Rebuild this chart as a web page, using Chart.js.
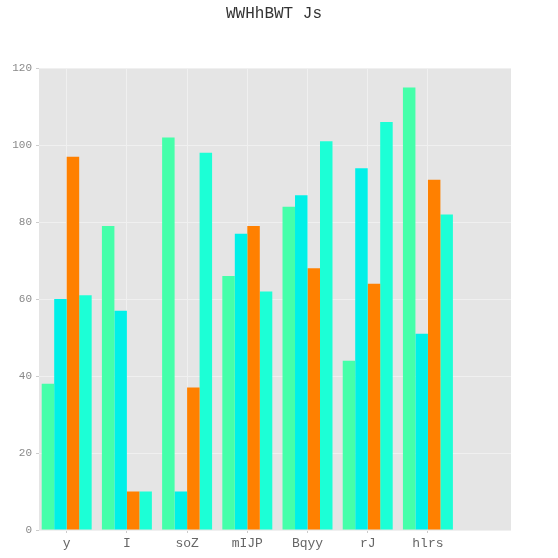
<!DOCTYPE html>
<html>
<head>
<meta charset="utf-8">
<script src="https://cdn.jsdelivr.net/npm/chart.js@4.4.1/dist/chart.umd.min.js"></script>
<style>
  html, body { margin: 0; padding: 0; background: #fff; }
  #wrap { width: 558px; height: 558px; }
</style>
</head>
<body>
<div id="wrap"><canvas id="chart" width="558" height="558"></canvas></div>
<script>
// chart data
const categories = ['y', 'I', 'soZ', 'mIJP', 'Bqyy', 'rJ', 'hlrs'];
const seriesA = [38, 79, 102, 66, 84, 44, 115];
const seriesB = [60, 57, 10, 77, 87, 94, 51];
const seriesC = [97, 10, 37, 79, 68, 64, 91];
const seriesD = [61, 10, 98, 62, 101, 106, 82];
const yTicks = [0, 20, 40, 60, 80, 100, 120];

const colours = ['#45FFAA', '#00F0E8', '#FF8000', '#1CFFD6'];
const monoFont = "'Liberation Mono', 'DejaVu Sans Mono', monospace";

const toPoints = arr => arr.map((v, i) => ({ x: i, y: v }));

// gray panel behind the plot
const panelBg = {
  id: 'panelBg',
  beforeDraw(chart) {
    const { ctx, chartArea: a } = chart;
    ctx.save();
    ctx.fillStyle = '#E5E5E5';
    ctx.fillRect(a.left, a.top, a.right - a.left, a.bottom - a.top);
    ctx.restore();
  }
};

const ctx = document.getElementById('chart').getContext('2d');
new Chart(ctx, {
  type: 'bar',
  data: {
    datasets: [seriesA, seriesB, seriesC, seriesD].map((s, i) => ({
      label: 'series ' + (i + 1),
      data: toPoints(s),
      backgroundColor: colours[i],
      borderWidth: 0,
      categoryPercentage: 0.83,
      barPercentage: 1.0
    }))
  },
  options: {
    responsive: false,
    animation: false,
    layout: { padding: { left: 0, right: 10, top: 0, bottom: 0 } },
    plugins: {
      legend: { display: false },
      tooltip: { enabled: false },
      title: {
        display: true,
        text: 'WWHhBWT Js',
        color: '#333',
        font: { family: monoFont, size: 16, weight: 'normal', lineHeight: 1.2 },
        padding: { top: 4, bottom: 45 }
      }
    },
    scales: {
      x: {
        type: 'linear',
        offset: false,
        min: -0.46,
        max: 7.38,
        afterBuildTicks: scale => { scale.ticks = categories.map((_, i) => ({ value: i })); },
        afterFit: scale => { scale.height = 28; },
        ticks: {
          color: '#666',
          font: { family: monoFont, size: 13 },
          padding: 3,
          callback: v => categories[v] ?? ''
        },
        grid: { color: '#F0F0F0', lineWidth: 1, offset: false, tickLength: 3, tickColor: '#CCCCCC' },
        border: { display: false }
      },
      y: {
        min: 0,
        max: 120,
        afterBuildTicks: scale => { scale.ticks = yTicks.map(v => ({ value: v })); },
        afterFit: scale => { scale.width = 39; },
        ticks: {
          color: '#888',
          font: { family: monoFont, size: 11 },
          padding: 4
        },
        grid: { color: '#F0F0F0', lineWidth: 1, tickLength: 3, tickColor: '#CCCCCC' },
        border: { display: false }
      },
      yRight: {
        position: 'right',
        display: true,
        afterFit: scale => { scale.width = 37; },
        ticks: { display: false },
        grid: { display: false },
        border: { display: false }
      }
    }
  },
  plugins: [panelBg]
});
</script>
</body>
</html>
